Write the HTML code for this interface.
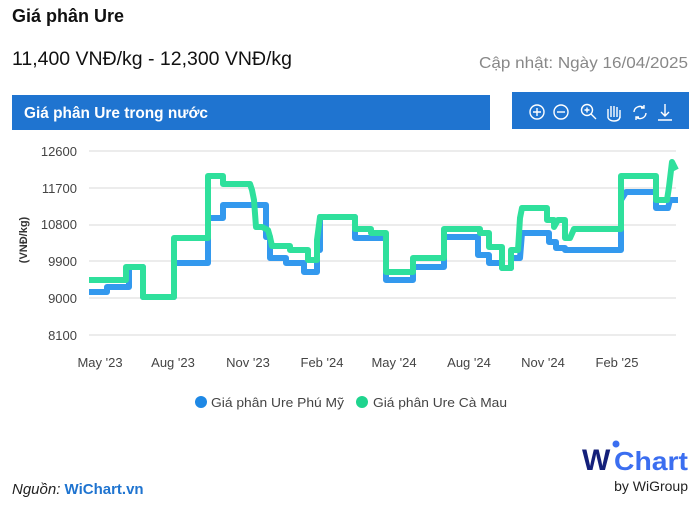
<!DOCTYPE html>
<html><head><meta charset="utf-8"><style>
html,body{margin:0;padding:0;background:#fff;}
svg{display:block;font-family:"Liberation Sans",sans-serif;}
</style></head><body>
<svg width="700" height="505" viewBox="0 0 700 505" xmlns="http://www.w3.org/2000/svg">
<rect width="700" height="505" fill="#fff"/>
<text x="12" y="22" font-size="18" font-weight="bold" fill="#111" textLength="112" lengthAdjust="spacingAndGlyphs">Giá phân Ure</text>
<text x="12" y="65" font-size="19" fill="#111" textLength="280" lengthAdjust="spacingAndGlyphs">11,400 VNĐ/kg - 12,300 VNĐ/kg</text>
<text x="688" y="68" font-size="16" fill="#888" text-anchor="end" textLength="209" lengthAdjust="spacingAndGlyphs">Cập nhật: Ngày 16/04/2025</text>
<rect x="12" y="95" width="478" height="35" fill="#1f74d0"/>
<text x="24" y="118" font-size="16" font-weight="bold" fill="#fff" textLength="184" lengthAdjust="spacingAndGlyphs">Giá phân Ure trong nước</text>
<rect x="512" y="92" width="177" height="37" fill="#1f74d0"/>
<g stroke="#fff" stroke-width="1.4" fill="none">
<circle cx="537" cy="112" r="7"/><path d="M533 112h8M537 108v8"/>
<circle cx="561" cy="112" r="7"/><path d="M557 112h8"/>
<circle cx="587" cy="110" r="5.5"/><path d="M591 114l5 5M584.5 110h5M587 107.5v5"/>
<path d="M608 118v-9M611 117v-11M614 117v-11M617 117v-10M620 118v-8M608 118q2 3 6 3q6 0 6-5"/>
<path d="M634 112a6 6 0 0 1 10-4M646 113a6 6 0 0 1-10 4M644 105v3h-3M636 120v-3h3"/>
<path d="M665 104v12M661 112l4 4 4-4M658 120h14"/>
</g>
<g stroke="#e6e6e6" stroke-width="1.5">
<line x1="89" y1="151" x2="676" y2="151"/><line x1="89" y1="188" x2="676" y2="188"/>
<line x1="89" y1="225" x2="676" y2="225"/><line x1="89" y1="261" x2="676" y2="261"/>
<line x1="89" y1="298" x2="676" y2="298"/><line x1="89" y1="335" x2="676" y2="335"/>
</g>
<g font-size="13" fill="#444" text-anchor="end">
<text x="77" y="156">12600</text><text x="77" y="193">11700</text><text x="77" y="229">10800</text>
<text x="77" y="266">9900</text><text x="77" y="303">9000</text><text x="77" y="340">8100</text>
</g>
<text transform="translate(27,240) rotate(-90)" font-size="11" font-weight="bold" fill="#333" text-anchor="middle">(VNĐ/kg)</text>
<g font-size="13" fill="#444" text-anchor="middle">
<text x="100" y="367">May '23</text><text x="173" y="367">Aug '23</text><text x="248" y="367">Nov '23</text>
<text x="322" y="367">Feb '24</text><text x="394" y="367">May '24</text><text x="469" y="367">Aug '24</text>
<text x="543" y="367">Nov '24</text><text x="617" y="367">Feb '25</text>
</g>
<polyline fill="none" stroke="#3399ee" stroke-width="6" stroke-linejoin="round" points="89,292 107,292 107,287 129,287 129,267 143,267 143,297 174,297 174,263 208,263 208,218 223,218 223,205 266,205 266,237 270,237 270,258 286,258 286,263 304,263 304,272 317,272 317,250 320,250 320,217 355,217 355,238 386,238 386,280 413,280 413,267 444,267 444,237 478,237 478,255 489,255 489,263 502,263 502,268 511,268 511,258 520,258 522,233 549,233 549,242 556,242 556,248 565,248 565,250 621,250 621,200 626,192 656,192 656,208 668,208 670,200 678,200"/>
<polyline fill="none" stroke="#2fe09c" stroke-width="6" stroke-linejoin="round" points="89,280 126,280 126,267 143,267 143,297 174,297 174,238 208,238 208,176 223,176 223,184 250,184 252,190 254,200 256,227 262,227 268,230 270,237 272,246 290,246 290,250 308,250 308,260 317,260 317,240 320,217 355,217 355,229 371,229 371,233 386,233 386,272 413,272 413,258 444,258 444,229 480,229 480,233 489,233 489,247 502,247 502,268 511,268 511,250 518,250 520,218 522,208 547,208 547,220 554,220 554,227 558,220 565,220 565,238 570,238 574,229 621,229 621,176 656,176 656,200 667,200 669,187 672,162 676,170"/>
<circle cx="201" cy="402" r="6" fill="#1e88e5"/>
<text x="211" y="407" font-size="13" fill="#444" textLength="133" lengthAdjust="spacingAndGlyphs">Giá phân Ure Phú Mỹ</text>
<circle cx="362" cy="402" r="6" fill="#1fd48e"/>
<text x="373" y="407" font-size="13" fill="#444" textLength="134" lengthAdjust="spacingAndGlyphs">Giá phân Ure Cà Mau</text>
<text x="12" y="494" font-size="15" font-style="italic" fill="#222">Nguồn: <tspan fill="#1f74d0" font-weight="bold" font-style="normal">WiChart.vn</tspan></text>
<text x="582" y="470" font-size="30" font-weight="bold" fill="#14207a">W</text>
<circle cx="616" cy="444" r="3.5" fill="#3b6ef0"/>
<text x="614" y="470" font-size="26" font-weight="bold" fill="#3b6ef0" textLength="74" lengthAdjust="spacingAndGlyphs">Chart</text>
<text x="688" y="491" font-size="14" fill="#222" text-anchor="end">by WiGroup</text>
</svg>
</body></html>
